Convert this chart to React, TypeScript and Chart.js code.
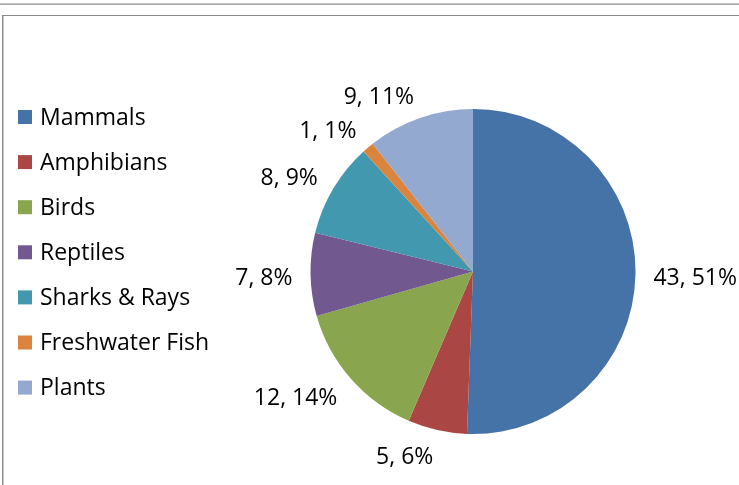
import React, { useEffect, useRef } from "react";
import { Chart, registerables } from "chart.js";

Chart.register(...registerables);

const categories = ["Mammals", "Amphibians", "Birds", "Reptiles", "Sharks & Rays", "Freshwater Fish", "Plants"];
const counts = [43, 5, 12, 7, 8, 1, 9];
const colors = ["#4572A7", "#AA4643", "#89A54E", "#71588F", "#4198AF", "#DB843D", "#93A9CF"];

const FONT = "'Open Sans', 'Liberation Sans', sans-serif";

const outsideLabels = {
  id: "outsideLabels",
  afterDatasetsDraw(chart: any) {
    const ctx = chart.ctx;
    const meta = chart.getDatasetMeta(0);
    const data = chart.data.datasets[0].data as number[];
    const total = data.reduce((a, b) => a + b, 0);
    ctx.save();
    ctx.font = `23px ${FONT}`;
    ctx.fillStyle = "#000";
    ctx.textBaseline = "middle";
    meta.data.forEach((arc: any, i: number) => {
      const p = arc.getProps(["x", "y", "startAngle", "endAngle", "outerRadius"], true);
      const mid = (p.startAngle + p.endAngle) / 2;
      const cx = Math.cos(mid);
      const cy = Math.sin(mid);
      const x = p.x + cx * (p.outerRadius + 18);
      const y = p.y + cy * (p.outerRadius + 25) + 3;
      ctx.textAlign = cx < -0.05 ? "right" : cx > 0.05 ? "left" : "center";
      const v = data[i];
      ctx.fillText(`${v}, ${Math.round((v / total) * 100)}%`, x, y);
    });
    ctx.restore();
  },
};

const sideLegend = {
  id: "sideLegend",
  afterDraw(chart: any) {
    const ctx = chart.ctx;
    const labels = chart.data.labels as string[];
    const bg = chart.data.datasets[0].backgroundColor as string[];
    ctx.save();
    ctx.font = `23px ${FONT}`;
    ctx.textBaseline = "middle";
    ctx.textAlign = "left";
    labels.forEach((lab, i) => {
      const yc = 117 + i * 45.1;
      ctx.fillStyle = bg[i];
      ctx.fillRect(18, yc - 7, 14, 14);
      ctx.fillStyle = "#000";
      ctx.fillText(lab, 40, yc + 1);
    });
    ctx.restore();
  },
};

export default function App() {
  const ref = useRef<HTMLCanvasElement | null>(null);
  useEffect(() => {
    document.body.style.margin = "0";
    if (!ref.current) return;
    const chart = new Chart(ref.current, {
      type: "pie",
      data: {
        labels: categories,
        datasets: [
          {
            data: counts,
            backgroundColor: colors,
            borderWidth: 0,
          },
        ],
      },
      options: {
        responsive: false,
        animation: false,
        layout: { padding: { left: 310, right: 103, top: 109, bottom: 51 } },
        plugins: {
          legend: { display: false },
          tooltip: { enabled: false },
        },
      },
      plugins: [outsideLabels, sideLegend],
    });
    return () => chart.destroy();
  }, []);

  return (
    <div style={{ position: "absolute", left: 0, top: 0, width: 739, height: 485, background: "#fff", overflow: "hidden" }}>
      <div style={{ position: "absolute", left: 0, top: 3, width: 739, height: 1, background: "#c8c8c8" }} />
      <div style={{ position: "absolute", left: 0, top: 4, width: 739, height: 1, background: "#a8a8a8" }} />
      <div style={{ position: "absolute", left: 2, top: 15, width: 737, height: 1, background: "#8c8c8c" }} />
      <div style={{ position: "absolute", left: 2, top: 15, width: 1, height: 470, background: "#8c8c8c" }} />
      <div style={{ position: "absolute", left: 3, top: 16, width: 1, height: 469, background: "#c8c8c8" }} />
      <canvas ref={ref} width={739} height={485} style={{ position: "absolute", left: 0, top: 0 }} />
    </div>
  );
}
